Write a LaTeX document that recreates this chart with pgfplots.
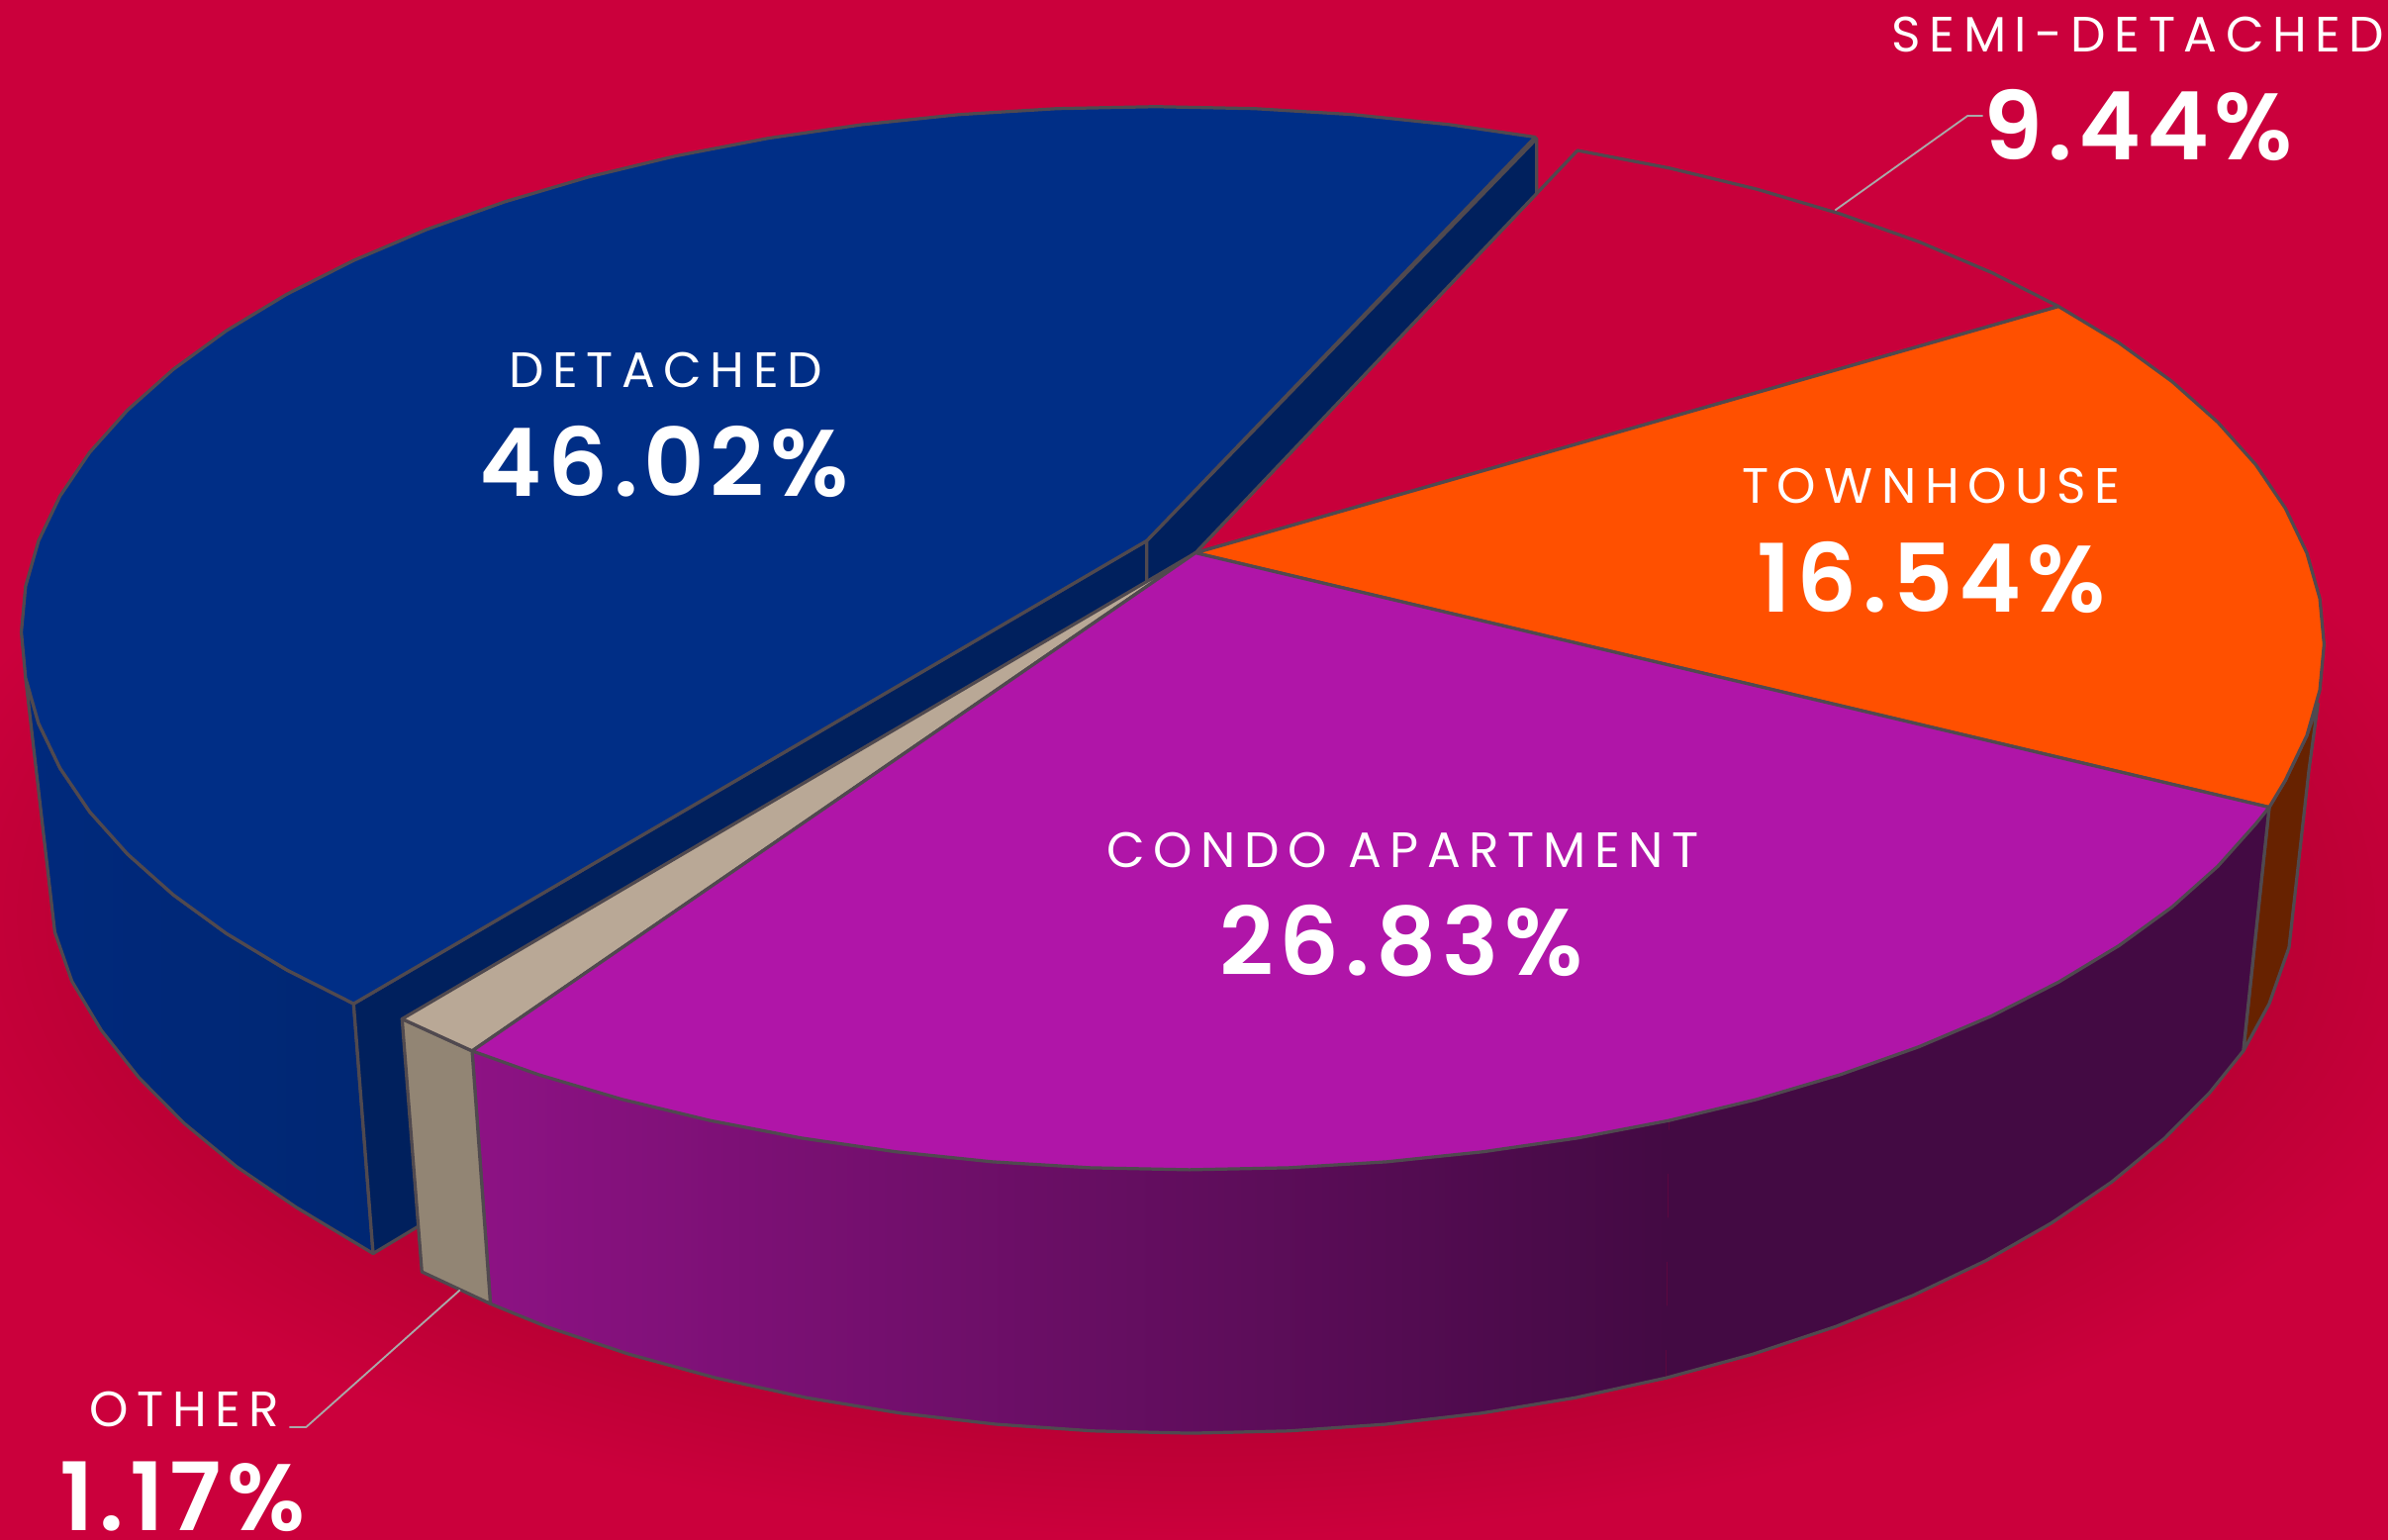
\documentclass[border=0pt]{standalone}
\usepackage{pgfplots}
\pgfplotsset{compat=1.18}
\usepackage{fontspec}
\setmainfont{Poppins}
\newfontfamily\lab[LetterSpace=17]{Poppins}
\newfontfamily\pct[LetterSpace=6]{Poppins SemiBold}
\definecolor{bg}{HTML}{CB003C}
\definecolor{sh}{HTML}{B80033}
\definecolor{edge}{HTML}{50494F}
\definecolor{semi}{HTML}{C8003B}
\definecolor{det}{HTML}{002E86}
\definecolor{detL}{HTML}{00297C}
\definecolor{detM}{HTML}{00246C}
\definecolor{detR}{HTML}{002773}
\definecolor{cut}{HTML}{00205D}
\definecolor{town}{HTML}{FF5000}
\definecolor{townside}{HTML}{672200}
\definecolor{condo}{HTML}{B015A8}
\definecolor{condodark}{HTML}{430A43}
\definecolor{condolight}{HTML}{8D1284}
\definecolor{oth}{HTML}{B9A896}
\definecolor{othside}{HTML}{928574}
\definecolor{leader}{HTML}{A9A9A9}
\pgfdeclareradialshading{pieshadow}{\pgfpointorigin}{color(0bp)=(sh); color(20bp)=(sh); color(25bp)=(bg); color(50bp)=(bg)}
\newcommand{\lbl}[3]{\node[white,anchor=center,inner sep=0pt] at (axis cs:#1,#2) {\fontsize{16.3}{16.3}\lab #3};}
\newcommand{\num}[3]{\node[white,anchor=center,inner sep=0pt] at (axis cs:#1,#2) {\fontsize{31}{31}\pct #3};}
\begin{document}
\begin{tikzpicture}
\begin{axis}[scale only axis,width=784pt,height=505.5pt,xmin=0,xmax=1568,ymin=0,ymax=1011,y dir=reverse,hide axis,
  every axis plot/.append style={mark=none,line join=round,line width=1.05pt,draw=edge}]
% background and soft shadow
\addplot[fill=bg,draw=none] coordinates {(0,0)(1568,0)(1568,1011)(0,1011)} --cycle;
\addplot[shading=pieshadow,draw=none] coordinates {(-75,190)(1645,190)(1645,1010)(-75,1010)} --cycle;
% detached: outer wall
\addplot[left color=detL,middle color=detM,right color=detR,draw=edge] coordinates {
(16.8,445.1)(25.3,474.9)(39.4,504.3)(58.9,533)(83.8,560.8)(113.8,587.5)(148.7,612.9)(188.3,636.8)(232.2,659)
(245,823)(194.7,792.8)(155.4,766)(120.9,737.5)(91.2,707.5)(66.5,676.4)(47.2,644.2)(36,612)} --cycle;
% detached: cut faces
\addplot[fill=cut] coordinates {(232.2,659)(753,355)(753,385)(275,805)(245,823)} --cycle;
% semi-detached top
\addplot[fill=semi] coordinates {(785,363)(1035.8,98.8)(1095.8,110.3)(1153.5,124.2)(1208.3,140.4)(1259.9,158.7)(1307.8,179)(1351.7,201.2)} --cycle;
\addplot[fill=cut] coordinates {(753,355)(1009,91)(1009,127)(785,363)(753,385)} --cycle;
% detached top
\addplot[fill=det] coordinates {(753,355)(1008,90)(951.8,81.8)(888.3,75.2)(824,71.3)(759,70)(694,71.3)(629.7,75.2)(566.2,81.8)(504.2,90.8)(444.2,102.3)(386.5,116.2)(331.7,132.4)(280.1,150.7)(232.2,171)(188.3,193.2)(148.7,217.1)(113.8,242.5)(83.8,269.2)(58.9,297)(39.4,325.7)(25.3,355.1)(16.8,384.9)(14,415)(16.8,445.1)(25.3,474.9)(39.4,504.3)(58.9,533)(83.8,560.8)(113.8,587.5)(148.7,612.9)(188.3,636.8)(232.2,659)} --cycle;
% townhouse wall and top
\addplot[fill=townside] coordinates {(1490,530)(1500.6,512.3)(1514.7,482.9)(1522,462)(1516,506)(1503,622)(1490,659)(1473,690)} --cycle;
\addplot[fill=town] coordinates {(785,363)(1351.7,201.2)(1391.3,225.1)(1426.2,250.5)(1456.2,277.2)(1481.1,305)(1500.6,333.7)(1514.7,363.1)(1523.2,392.9)(1526,423)(1523.2,453.1)(1514.7,482.9)(1500.6,512.3)(1490,530)} --cycle;
% condo wall, gradient part then dark part
\addplot[left color=condolight,right color=condodark,draw=none] coordinates {
(1095.8,735.7)(1035.8,747.2)(973.8,756.2)(910.3,762.8)(846,766.7)(781,768)(716,766.7)(651.7,762.8)(588.2,756.2)(526.2,747.2)(466.2,735.7)(408.5,721.8)(353.7,705.6)(310,690)
(322,856)(358.7,871)(413,889.1)(470.1,904.7)(529.6,917.7)(591,927.8)(653.9,935.1)(717.6,939.5)(782,941)(846.4,939.5)(910.1,935.1)(973,927.8)(1034.4,917.7)(1093.9,904.7)} --cycle;
\addplot[fill=condodark,draw=none] coordinates {
(1490,530)(1481.1,541)(1456.2,568.8)(1426.2,595.5)(1391.3,620.9)(1351.7,644.8)(1307.8,667)(1259.9,687.3)(1208.3,705.6)(1153.5,721.8)(1095.8,735.7)
(1093.9,904.7)(1151,889.1)(1205.3,871)(1256.4,850.4)(1303.9,827.7)(1347.3,802.8)(1386.6,776)(1421.1,747.5)(1450.8,717.5)(1473,690)} --cycle;
\addplot[draw=edge,fill=none] coordinates {(1490,530)(1473,690)(1450.8,717.5)(1421.1,747.5)(1386.6,776)(1347.3,802.8)(1303.9,827.7)(1256.4,850.4)(1205.3,871)(1151,889.1)(1093.9,904.7)(1034.4,917.7)(973,927.8)(910.1,935.1)(846.4,939.5)(782,941)(717.6,939.5)(653.9,935.1)(591,927.8)(529.6,917.7)(470.1,904.7)(413,889.1)(358.7,871)(322,856)(310,690)};
% other wall and top
\addplot[fill=othside] coordinates {(264,669)(310,690)(322,856)(277,835)} --cycle;
\addplot[fill=oth] coordinates {(785,363)(310,690)(264,669)} --cycle;
% condo top
\addplot[fill=condo] coordinates {(785,363)(1490,530)(1481.1,541)(1456.2,568.8)(1426.2,595.5)(1391.3,620.9)(1351.7,644.8)(1307.8,667)(1259.9,687.3)(1208.3,705.6)(1153.5,721.8)(1095.8,735.7)(1035.8,747.2)(973.8,756.2)(910.3,762.8)(846,766.7)(781,768)(716,766.7)(651.7,762.8)(588.2,756.2)(526.2,747.2)(466.2,735.7)(408.5,721.8)(353.7,705.6)(310,690)} --cycle;
% leaders
\addplot[draw=leader,line width=0.6pt] coordinates {(1205,138)(1292,76)(1302,76)};
\addplot[draw=leader,line width=0.6pt] coordinates {(302,847)(201,937)(190,937)};
% labels
\lbl{1404}{23}{SEMI-DETACHED}
\num{1404}{82}{9.44\%}
\lbl{1268}{319}{TOWNHOUSE}
\num{1268}{379}{16.54\%}
\lbl{921}{558}{CONDO APARTMENT}
\num{920}{618}{26.83\%}
\lbl{437}{243}{DETACHED}
\num{436}{303}{46.02\%}
\lbl{121}{925}{OTHER}
\num{120}{983}{1.17\%}
\end{axis}
\end{tikzpicture}
\end{document}
